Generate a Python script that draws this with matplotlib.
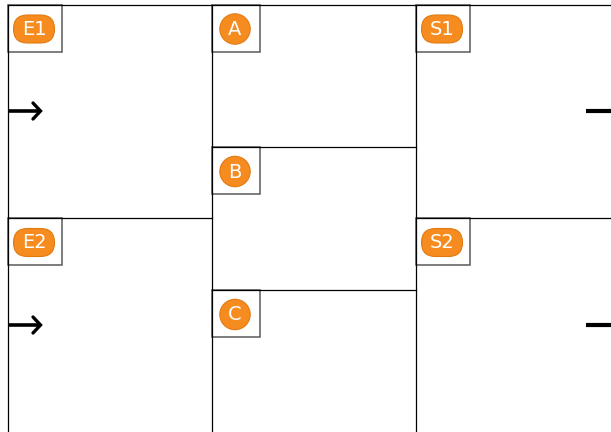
import matplotlib.pyplot as plt
from matplotlib.patches import FancyBboxPatch, Circle, Rectangle

# column edges and horizontal splits of the grid (pixels)
col_x = [7.5, 211.5, 415.5, 611]
splits = {0: [218], 1: [147, 290], 2: [218]}
top_y = 4.5

# labels placed at the top-left of each cell
labels = ['E1', 'E2', 'A', 'B', 'C', 'S1', 'S2']
label_col = [0, 0, 1, 1, 1, 2, 2]
label_top = [4.5, 218, 4.5, 147, 290, 4.5, 218]
label_pill = [True, True, False, False, False, True, True]

# arrows: y positions of the entry (left) and exit (right) arrows
arrow_y = [111, 325]

orange = '#f68b1f'
orange_edge = '#e27b12'

fig = plt.figure(figsize=(6.11, 4.32), dpi=100)
ax = fig.add_axes([0, 0, 1, 1])
ax.set_xlim(0, 611)
ax.set_ylim(432, 0)
ax.axis('off')

# grid lines
ax.plot([col_x[0], 611], [top_y, top_y], color='black', lw=0.9)
for x in col_x[:3]:
    ax.plot([x, x], [top_y, 432], color='black', lw=0.9)
for c, ys in splits.items():
    for y in ys:
        ax.plot([col_x[c], col_x[c + 1]], [y, y], color='black', lw=0.9)

# label boxes with orange badges
for lab, c, ty, pill in zip(labels, label_col, label_top, label_pill):
    x0 = col_x[c]
    w = 54 if pill else 48
    ax.add_patch(Rectangle((x0, ty), w, 47, fill=False, ec='#5a5a5a', lw=1.1))
    cx, cy = x0 + (26.5 if pill else 23.5), ty + 24.5
    if pill:
        ax.add_patch(FancyBboxPatch((cx - 7, cy - 0.5), 14, 1,
                                    boxstyle='round,pad=13.5,rounding_size=14',
                                    fc=orange, ec=orange_edge, lw=0.8))
    else:
        ax.add_patch(Circle((cx, cy), 15.2, fc=orange, ec=orange_edge, lw=0.8))
    ax.text(cx, cy + 0.5, lab, color='white', fontsize=14,
            ha='center', va='center', family='DejaVu Sans')

# entry arrows on the left, exit arrows cut at the right edge
for y in arrow_y:
    ax.plot([7.5, 40], [y, y], color='black', lw=2.6, solid_capstyle='butt')
    ax.plot([33, 40.5, 33], [y - 8, y, y + 8], color='black', lw=2.4,
            solid_capstyle='round', solid_joinstyle='miter')
    ax.plot([586, 615], [y, y], color='black', lw=3, solid_capstyle='butt')

plt.savefig('out.png', dpi=100)
